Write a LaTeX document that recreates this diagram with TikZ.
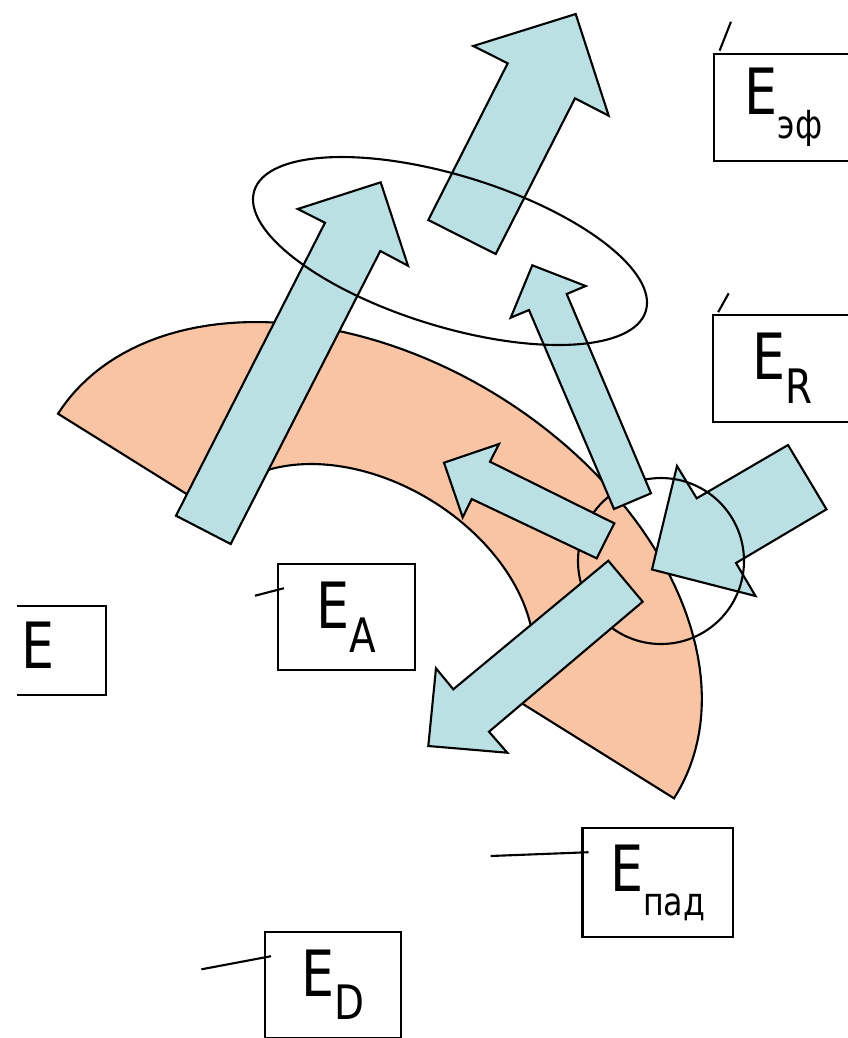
\documentclass[tikz,border=0pt]{standalone}
\usepackage{fontspec}
\setmainfont[FakeStretch=0.82]{DejaVu Sans}
\definecolor{arrblue}{RGB}{187,224,227}
\definecolor{archpeach}{RGB}{249,196,164}
% E with a lowered index
\newcommand{\esub}[2][13.5]{E\raisebox{-6.8pt}{\fontsize{#1pt}{#1pt}\selectfont #2}}

\begin{document}
\begin{tikzpicture}[x=0.01cm,y=-0.01cm,line width=0.6pt,
		blockarrow/.style={draw=black,fill=arrblue,line join=miter},
		lbox/.style={draw=black,fill=white,inner sep=0pt,font=\fontsize{18.15pt}{20pt}\selectfont},
		tick/.style={draw=black}]
			\clip (0,0) rectangle (848,1038);
			% half ring
			\filldraw[archpeach,draw=black]
				plot[domain=0:180,samples=90,variable=\t] ({366+308*cos(\t)+134*sin(\t)},{606+192.3*cos(\t)-209*sin(\t)})
				-- plot[domain=180:0,samples=90,variable=\t] ({366+0.5*(308*cos(\t)+134*sin(\t))},{606+0.5*(192.3*cos(\t)-209*sin(\t))})
				-- cycle;
			% outgoing arrow
			\coordinate (f1) at (575.7,14);
			\coordinate (f2) at (608.7,115.7);
			\coordinate (f3) at (575,98.3);
			\coordinate (f4) at (495.7,254);
			\coordinate (f5) at (428.3,220);
			\coordinate (f6) at (507.7,63.3);
			\coordinate (f7) at (473.3,46);
			\filldraw[blockarrow] (f1) -- (f2) -- (f3) -- (f4) -- (f5) -- (f6) -- (f7) -- cycle;
			% incoming arrow
			\coordinate (p1) at (788,445);
			\coordinate (p2) at (826.5,509.3);
			\coordinate (p3) at (736,563);
			\coordinate (p4) at (755.5,596);
			\coordinate (p5) at (652,569.5);
			\coordinate (p6) at (677,466);
			\coordinate (p7) at (696.7,498.3);
			\filldraw[blockarrow] (p1) -- (p2) -- (p3) -- (p4) -- (p5) -- (p6) -- (p7) -- cycle;
			\draw (661,561) circle[radius=83];
			% reflected arrow
			\coordinate (r1) at (532.3,265.3);
			\coordinate (r2) at (585.7,286);
			\coordinate (r3) at (566.7,294);
			\coordinate (r4) at (651,493.3);
			\coordinate (r5) at (614,509);
			\coordinate (r6) at (529,310);
			\coordinate (r7) at (510.7,317.7);
			\filldraw[blockarrow] (r1) -- (r2) -- (r3) -- (r4) -- (r5) -- (r6) -- (r7) -- cycle;
			% absorbed arrow
			\coordinate (a1) at (444,462.7);
			\coordinate (a2) at (499,444);
			\coordinate (a3) at (490,461.7);
			\coordinate (a4) at (614.3,523.3);
			\coordinate (a5) at (596.7,558.3);
			\coordinate (a6) at (471.7,499);
			\coordinate (a7) at (462.7,517.3);
			\filldraw[blockarrow] (a1) -- (a2) -- (a3) -- (a4) -- (a5) -- (a6) -- (a7) -- cycle;
			% passing arrow
			\coordinate (d1) at (608.3,560.7);
			\coordinate (d2) at (642.7,601.7);
			\coordinate (d3) at (489,731.7);
			\coordinate (d4) at (507.3,752.7);
			\coordinate (d5) at (428.3,746);
			\coordinate (d6) at (436,668.3);
			\coordinate (d7) at (453.3,689.3);
			\filldraw[blockarrow] (d1) -- (d2) -- (d3) -- (d4) -- (d5) -- (d6) -- (d7) -- cycle;
			% emitted arrow
			\coordinate (s1) at (380.7,182.3);
			\coordinate (s2) at (408,265.7);
			\coordinate (s3) at (380.3,251);
			\coordinate (s4) at (230.7,544);
			\coordinate (s5) at (176,515.7);
			\coordinate (s6) at (325,222.7);
			\coordinate (s7) at (297.7,209);
			\filldraw[blockarrow] (s1) -- (s2) -- (s3) -- (s4) -- (s5) -- (s6) -- (s7) -- cycle;
			\draw[rotate around={-17.1:(450,251)}] (450,251) ellipse[x radius=204.8,y radius=75.5];
			% labels
			\node[lbox,minimum width=1.39cm,minimum height=1.067cm] (eeff) at (783.5,107.7) {\esub[11]{эф}};
			\node[lbox,minimum width=1.403cm,minimum height=1.067cm] (er) at (782.8,368.3) {\esub{R}};
			\node[lbox,minimum width=1.367cm,minimum height=1.06cm] (ea) at (346.7,617) {\esub{A}};
			\node[lbox,minimum width=1.504cm,minimum height=1.084cm] (epad) at (657.7,882.5) {\esub[11]{пад}};
			\node[lbox,minimum width=1.368cm,minimum height=1.06cm] (ed) at (333,984.7) {\esub{D}};
			\node[lbox,draw=none,minimum width=0.87cm,minimum height=0.876cm] (ebox) at (61.5,650.5) {};
			\draw (ebox.north west) -- (ebox.north east) -- (ebox.south east) -- (ebox.south west);
			\node[lbox,fill=none,draw=none,anchor=base west] (e) at (20.8,668.3) {E};
			\coordinate (teff) at (731,21.7);
			\coordinate (tr) at (728.7,293.3);
			\coordinate (ta) at (255,595.7);
			\coordinate (tpad) at (490.7,856);
			\coordinate (td) at (201.4,969.3);
			\draw[tick] (teff) -- ([shift={(6.7,-2.6)}]eeff.north west);
			\draw[tick] (tr) -- ([shift={(6.6,-1.7)}]er.north west);
			\draw[tick] (ta) -- ([shift={(6.7,25.3)}]ea.north west);
			\draw[tick] (tpad) -- ([shift={(7.1,25)}]epad.north west);
			\draw[tick] (td) -- ([shift={(7.5,25.6)}]ed.north west);
		\end{tikzpicture}
\end{document}
